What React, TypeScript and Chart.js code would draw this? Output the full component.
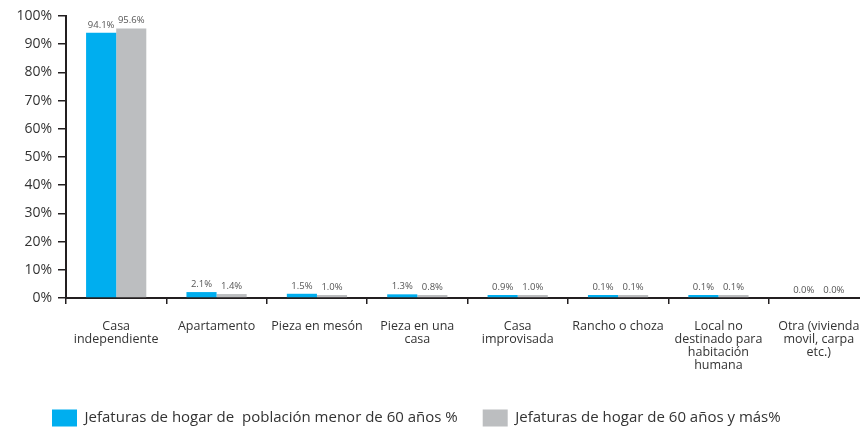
import React, { useEffect, useRef } from "react";
import { Chart, registerables } from "chart.js";

Chart.register(...registerables);

const categories: (string | string[])[] = [
  ["Casa", "independiente"],
  "Apartamento",
  "Pieza en mesón",
  ["Pieza en una", "casa"],
  ["Casa", "improvisada"],
  "Rancho o choza",
  ["Local no", "destinado para", "habitación", "humana"],
  ["Otra (vivienda", "movil, carpa", "etc.)"],
];

const seriesNames = [
  "Jefaturas de hogar de  población menor de 60 años %",
  "Jefaturas de hogar de 60 años y más%",
];

const menor60 = [94.1, 2.1, 1.5, 1.3, 0.9, 0.1, 0.1, 0.0];
const mayor60 = [95.6, 1.4, 1.0, 0.8, 1.0, 0.1, 0.1, 0.0];

const yTicks = [0, 10, 20, 30, 40, 50, 60, 70, 80, 90, 100];

const BLUE = "#00AEEF";
const GRAY = "#BCBEC0";
const AXIS = "#231F20";
const FONT = "'Open Sans', sans-serif";

const valueLabels = {
  id: "valueLabels",
  afterDatasetsDraw(chart: any) {
    const ctx = chart.ctx;
    const yScale = chart.scales.y;
    const all = [menor60, mayor60];
    ctx.save();
    ctx.font = `9.5px ${FONT}`;
    ctx.fillStyle = "#555555";
    ctx.textAlign = "center";
    ctx.textBaseline = "bottom";
    all.forEach((vals, di) => {
      const meta = chart.getDatasetMeta(di);
      vals.forEach((v, i) => {
        const bar = meta.data[i];
        if (!bar) return;
        let y = yScale.getPixelForValue(v);
        if (Number.isFinite(bar.y)) y = Math.min(y, bar.y);
        ctx.fillText(v.toFixed(1) + "%", bar.x, y - 3);
      });
    });
    ctx.restore();
  },
};

// place the legend row like the reference (first box at x=52, box top at y=410)
const legendPlacer = {
  id: "legendPlacer",
  afterLayout(chart: any) {
    const lg = chart.legend;
    if (!lg) return;
    const pad = lg.options.labels.padding;
    const h = lg.height;
    lg.left = 52 - pad;
    lg.top = 410 - pad - 0.5;
    lg.bottom = lg.top + h;
  },
};

export default function App() {
  const ref = useRef<HTMLCanvasElement>(null);
  useEffect(() => {
    if (!ref.current) return;
    const chart = new Chart(ref.current, {
      type: "bar",
      data: {
        labels: categories,
        datasets: [
          {
            label: seriesNames[0],
            data: menor60.map((v) => (v === 0 ? null : v)),
            backgroundColor: BLUE,
            borderWidth: 0,
            minBarLength: 3,
          },
          {
            label: seriesNames[1],
            data: mayor60.map((v) => (v === 0 ? null : v)),
            backgroundColor: GRAY,
            borderWidth: 0,
            minBarLength: 3,
          },
        ],
      },
      options: {
        animation: false,
        responsive: false,
        maintainAspectRatio: false,
        layout: { padding: { top: 16, left: 0, right: 11, bottom: 0 } },
        datasets: {
          bar: { categoryPercentage: 0.6, barPercentage: 1.0 },
        },
        scales: {
          x: {
            offset: true,
            grid: {
              offset: true,
              drawOnChartArea: false,
              drawTicks: true,
              tickLength: 6,
              color: AXIS,
              lineWidth: 1.5,
            },
            border: { display: true, color: AXIS, width: 2 },
            ticks: {
              color: "#333333",
              font: { family: FONT, size: 12.5, lineHeight: 1.04 },
              padding: 16,
              maxRotation: 0,
              autoSkip: false,
            },
            afterFit(scale: any) {
              scale.height = 80;
            },
          },
          y: {
            min: 0,
            max: 100,
            afterBuildTicks(scale: any) {
              scale.ticks = yTicks.map((v) => ({ value: v }));
            },
            grid: {
              drawOnChartArea: false,
              drawTicks: true,
              tickLength: 8,
              color: AXIS,
              lineWidth: 1.5,
            },
            border: { display: true, color: AXIS, width: 2 },
            ticks: {
              color: "#333333",
              font: { family: FONT, size: 14 },
              padding: 6,
              callback: (v: any) => v + "%",
            },
            afterFit(scale: any) {
              scale.width = 66;
            },
          },
        },
        plugins: {
          legend: {
            position: "bottom",
            align: "start",
            labels: {
              boxWidth: 25,
              boxHeight: 17,
              padding: 25,
              color: "#333333",
              font: { family: FONT, size: 15 },
            },
          },
          tooltip: { enabled: false },
        },
      },
      plugins: [valueLabels, legendPlacer],
    });
    return () => chart.destroy();
  }, []);
  return (
    <div
      style={{
        position: "fixed",
        left: 0,
        top: 0,
        width: 860,
        height: 430,
        overflow: "hidden",
        background: "#fff",
      }}
    >
      <canvas ref={ref} width={880} height={430} style={{ display: "block" }} />
    </div>
  );
}
